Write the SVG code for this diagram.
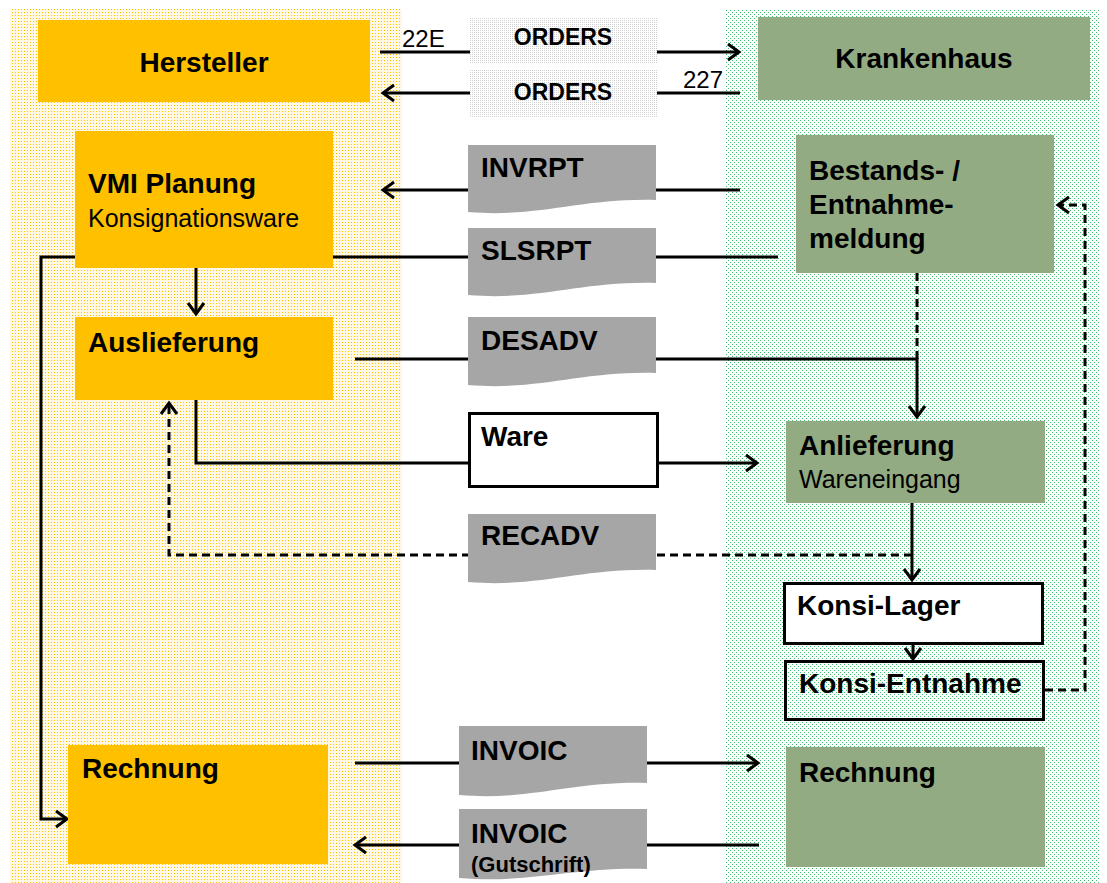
<svg xmlns="http://www.w3.org/2000/svg" width="1107" height="883" viewBox="0 0 1107 883">
<style>
.b{font-family:"Liberation Sans",Arial,sans-serif;font-weight:bold;font-size:28px;fill:#000}
.r{font-family:"Liberation Sans",Arial,sans-serif;font-size:25px;fill:#000}
.lbl{font-family:"Liberation Sans",Arial,sans-serif;font-size:24px;fill:#000}
.ln{fill:none;stroke:#000;stroke-width:3}
.ds{fill:none;stroke:#000;stroke-width:3;stroke-dasharray:8 5}
.ylw{fill:#FFC000}
.grn{fill:#92AB83}
.doc{fill:#A6A6A6}
.wbox{fill:#fff;stroke:#000;stroke-width:3}
</style>
<defs>
<pattern id="py" width="3" height="3" patternUnits="userSpaceOnUse"><rect width="3" height="3" fill="#FFF8E4"/><rect width="1" height="1" fill="#FFC000"/></pattern>
<pattern id="pg" width="4" height="4" patternUnits="userSpaceOnUse"><rect width="4" height="4" fill="#FFFFFF"/><rect width="1" height="1" fill="#3FBF72"/><rect x="2" y="2" width="1" height="1" fill="#3FBF72"/></pattern>
<pattern id="pgr" width="2" height="2" patternUnits="userSpaceOnUse"><rect width="2" height="2" fill="#FFFFFF"/><rect width="1" height="1" fill="#D2D2D2"/></pattern>
<marker id="ah" markerUnits="userSpaceOnUse" markerWidth="20" markerHeight="22" viewBox="-14 -11 16 22" refX="0" refY="0" orient="auto">
<path d="M-11,-8 L0,0 L-11,8" fill="none" stroke="#000" stroke-width="3" stroke-dasharray="none"/>
</marker>
</defs>
<rect x="10" y="9" width="392" height="874" fill="url(#py)"/>
<rect x="725" y="9" width="375" height="874" fill="url(#pg)"/>
<g id="connectors">
<path class="ln" d="M380,52 H739" marker-end="url(#ah)"/>
<path class="ln" d="M740,93 H383" marker-end="url(#ah)"/>
<path class="ln" d="M740,190 H383" marker-end="url(#ah)"/>
<path class="ln" d="M778,257 H41 V819 H67" marker-end="url(#ah)"/>
<path class="ln" d="M196,268 V314" marker-end="url(#ah)"/>
<path class="ln" d="M355,359 H917 V417" marker-end="url(#ah)"/>
<path class="ds" d="M917,273 V359"/>
<path class="ln" d="M196,400 V463 H757" marker-end="url(#ah)"/>
<path class="ds" d="M912,555 H169 V403" marker-end="url(#ah)"/>
<path class="ln" d="M912,503 V580" marker-end="url(#ah)"/>
<path class="ln" d="M913,644 V659" marker-end="url(#ah)"/>
<path class="ds" d="M1045,690 H1085 V205 H1058" marker-end="url(#ah)"/>
<path class="ln" d="M355,763 H758" marker-end="url(#ah)"/>
<path class="ln" d="M759,845 H355" marker-end="url(#ah)"/>
<text class="lbl" x="402" y="47">22E</text>
<text class="lbl" x="683" y="88">227</text>
</g>
<g id="hersteller"><rect class="ylw" x="38" y="20" width="332" height="82"/><text class="b" x="204" y="72" text-anchor="middle">Hersteller</text></g>
<g id="vmi"><rect class="ylw" x="75" y="131" width="258" height="137"/><text class="b" x="88" y="193">VMI Planung</text><text class="r" x="88" y="227">Konsignationsware</text></g>
<g id="auslieferung"><rect class="ylw" x="75" y="317" width="258" height="83"/><text class="b" x="88" y="352">Auslieferung</text></g>
<g id="rechnung-h"><rect class="ylw" x="68" y="745" width="260" height="119"/><text class="b" x="82" y="778">Rechnung</text></g>
<g id="orders1"><rect x="470" y="17" width="187" height="46" fill="url(#pgr)"/><text class="b" x="563" y="45" text-anchor="middle" style="font-size:23px">ORDERS</text></g>
<g id="orders2"><rect x="470" y="70" width="187" height="47" fill="url(#pgr)"/><text class="b" x="563" y="100" text-anchor="middle" style="font-size:23px">ORDERS</text></g>
<g id="invrpt"><path class="doc" d="M468,145 H656 V200 C580,198 540,218 468,212 Z"/><text class="b" x="481" y="177">INVRPT</text></g>
<g id="slsrpt"><path class="doc" d="M468,228 H656 V283 C580,281 540,301 468,295 Z"/><text class="b" x="481" y="260">SLSRPT</text></g>
<g id="desadv"><path class="doc" d="M468,317 H656 V373 C580,371 540,391 468,385 Z"/><text class="b" x="481" y="350">DESADV</text></g>
<g id="ware"><rect class="wbox" x="469.5" y="413.5" width="188" height="73"/><text class="b" x="481" y="446">Ware</text></g>
<g id="recadv"><path class="doc" d="M468,514 H656 V570 C580,568 540,588 468,582 Z"/><text class="b" x="481" y="545">RECADV</text></g>
<g id="invoic1"><path class="doc" d="M459,726 H647 V783 C571,781 531,801 459,795 Z"/><text class="b" x="471" y="760">INVOIC</text></g>
<g id="invoic2"><path class="doc" d="M459,809 H647 V869 C571,867 531,884 459,878 Z"/><text class="b" x="471" y="843">INVOIC</text><text class="b" x="471" y="872" style="font-size:22px">(Gutschrift)</text></g>
<g id="krankenhaus"><rect class="grn" x="758" y="17" width="332" height="83"/><text class="b" x="924" y="68" text-anchor="middle">Krankenhaus</text></g>
<g id="bestand"><rect class="grn" x="796" y="135" width="258" height="138"/><text class="b" x="809" y="180">Bestands- /</text><text class="b" x="809" y="214">Entnahme-</text><text class="b" x="809" y="248">meldung</text></g>
<g id="anlieferung"><rect class="grn" x="786" y="421" width="259" height="82"/><text class="b" x="799" y="455">Anlieferung</text><text class="r" x="799" y="488">Wareneingang</text></g>
<g id="konsilager"><rect class="wbox" x="784.5" y="583.5" width="258" height="60"/><text class="b" x="797" y="615">Konsi-Lager</text></g>
<g id="konsientnahme"><rect class="wbox" x="785.5" y="661.5" width="258" height="58" style="fill:url(#pg)"/><text class="b" x="799" y="693">Konsi-Entnahme</text></g>
<g id="rechnung-k"><rect class="grn" x="786" y="747" width="259" height="120"/><text class="b" x="799" y="782">Rechnung</text></g>
</svg>
